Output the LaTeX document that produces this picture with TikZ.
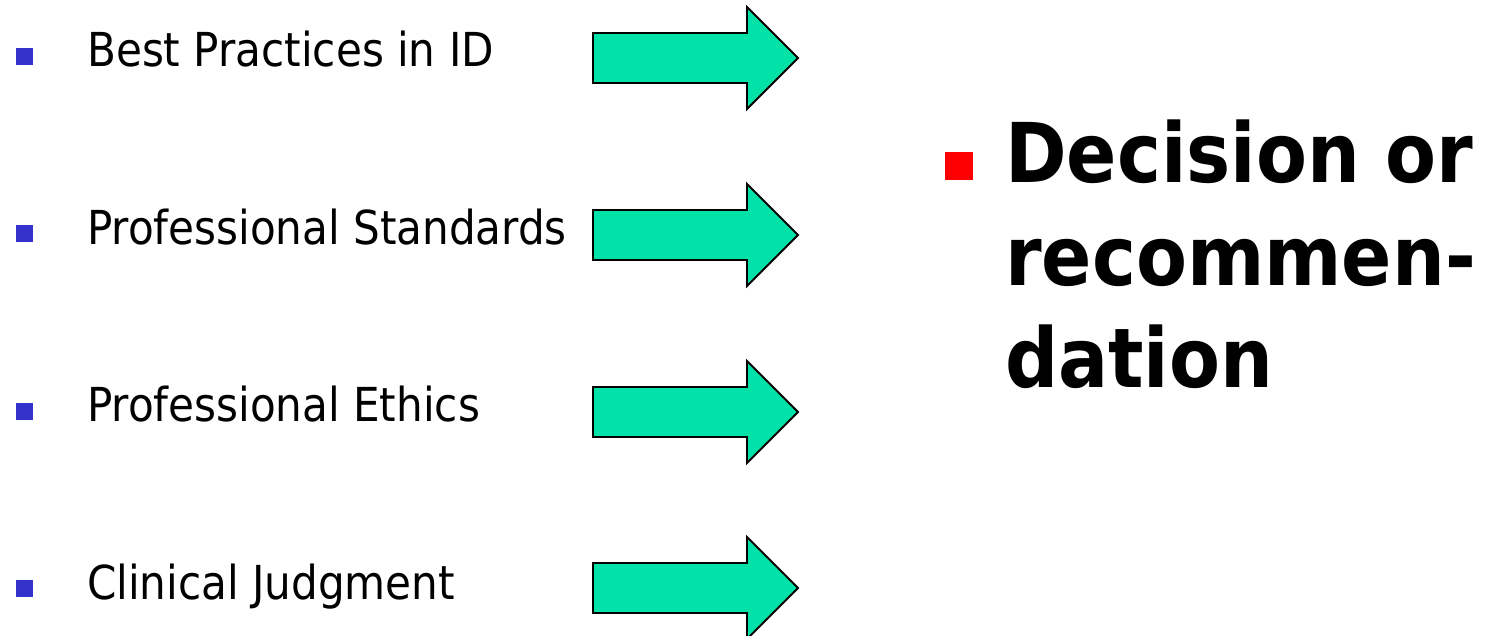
\documentclass[tikz,border=0pt]{standalone}
\usepackage{fontspec}
\setmainfont{DejaVu Sans Condensed}
\newfontfamily\boldcond{DejaVu Sans Condensed Bold}
\definecolor{bulletblue}{RGB}{51,51,204}
\definecolor{arrowgreen}{RGB}{0,226,168}
\definecolor{bulletred}{RGB}{255,0,0}
\tikzset{
  bluebullet/.style={fill=bulletblue, draw=none, minimum size=17bp, inner sep=0pt, rectangle},
  redbullet/.style={fill=bulletred, draw=none, minimum size=28bp, inner sep=0pt, rectangle},
  itemtext/.style={anchor=base west, inner sep=0pt, font=\fontsize{46.8bp}{52bp}\selectfont},
  bigtext/.style={anchor=base west, inner sep=0pt, font=\fontsize{82.5bp}{100bp}\boldcond},
  fatarrow/.style={fill=arrowgreen, draw=black, line width=1.8bp, line join=miter}
}
\newcommand{\fatarrowat}[1]{%
  \draw[fatarrow] (593,#1-25) -- (747,#1-25) -- (747,#1-51) -- (798,#1) -- (747,#1+51) -- (747,#1+25) -- (593,#1+25) -- cycle;}
\begin{document}
\begin{tikzpicture}[x=1bp,y=-1bp]
\useasboundingbox (0,0) rectangle (1501,636);
\node[bluebullet] (b1) at (24.5,56.5) {};
\node[bluebullet] (b2) at (24.5,233.8) {};
\node[bluebullet] (b3) at (24.5,411.1) {};
\node[bluebullet] (b4) at (24.5,588.5) {};
\node[itemtext] (t1) at (87,67) {Best Practices in ID};
\node[itemtext] (t2) at (87,244.3) {Professional Standards};
\node[itemtext] (t3) at (87,421.6) {Professional Ethics};
\node[itemtext] (t4) at (87,599) {Clinical Judgment};
\fatarrowat{58}
\fatarrowat{235}
\fatarrowat{412}
\fatarrowat{588}
\node[redbullet] (rb) at (959,166) {};
\node[bigtext] (d1) at (1005,183) {Decision or};
\node[bigtext] (d2) at (1005,285) {recommen-};
\node[bigtext] (d3) at (1005,387) {dation};
\end{tikzpicture}
\end{document}
